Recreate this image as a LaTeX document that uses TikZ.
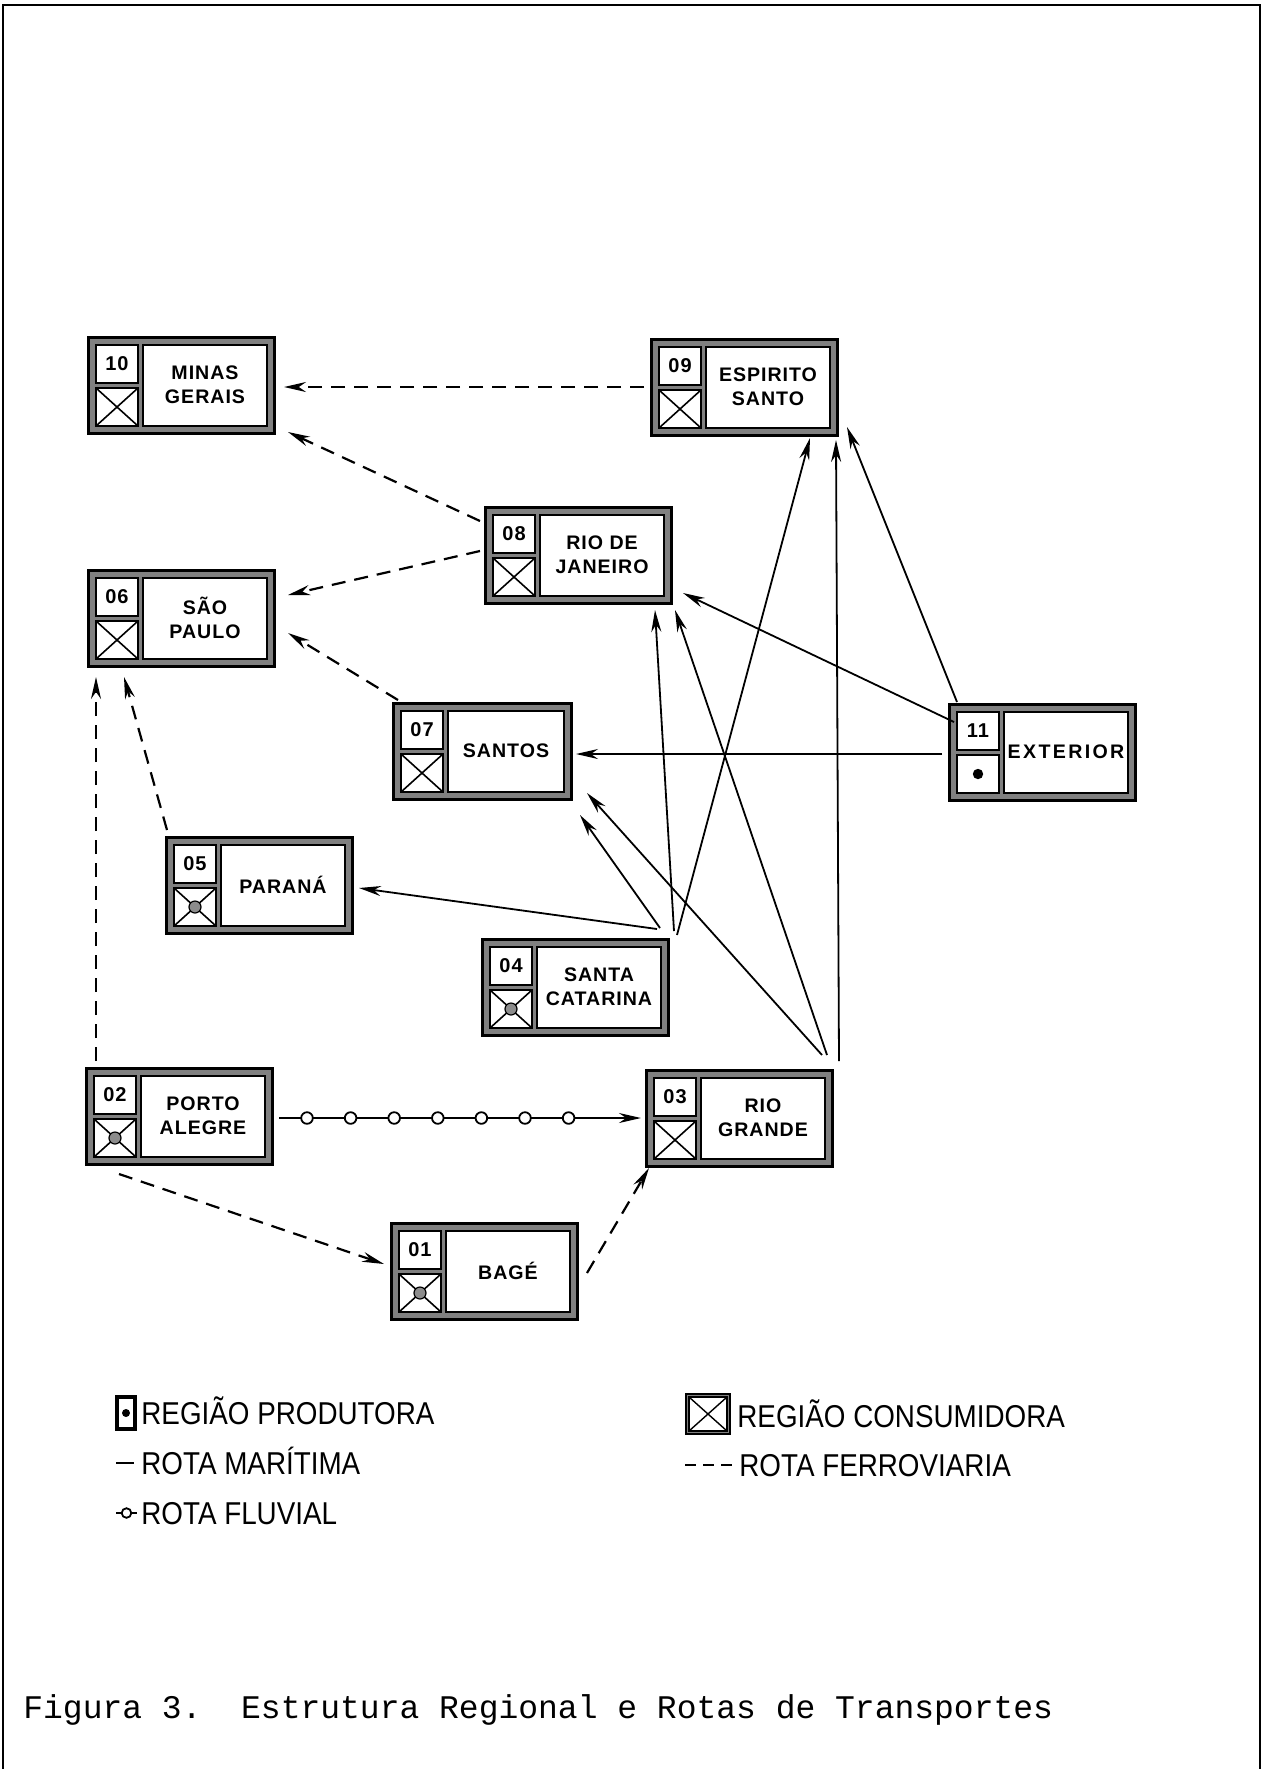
\documentclass[tikz,border=0pt]{standalone}
\usepackage{fontspec}
\setmainfont{Liberation Sans}
\newfontfamily\boxfont[LetterSpace=5]{Liberation Sans}
\newfontfamily\legfont[FakeStretch=0.88]{Liberation Sans}
\newfontfamily\capfont{Liberation Mono}
\usetikzlibrary{arrows.meta,calc,decorations.markings}

\tikzset{
  regbox/.style={draw, line width=1.5pt, fill=black!50, minimum width=93pt,
    minimum height=48pt, inner sep=0pt, outer sep=0pt},
  cell/.style={draw, line width=0.6pt, fill=white},
  numtxt/.style={font=\boxfont\bfseries\fontsize{10}{12}\selectfont, inner sep=0pt},
  nametxt/.style={font=\boxfont\bfseries\fontsize{9.8}{12}\selectfont, align=center, inner sep=0pt},
  tip/.style={-{Stealth[length=11pt,width=5pt]}},
  ferro/.style={tip, line width=1.1pt, dash pattern=on 7pt off 4.5pt},
  mar/.style={tip, line width=0.9pt},
  fluv/.style={tip, line width=1pt, postaction={decorate},
    decoration={markings, mark=between positions 14pt and 145pt step 21.8pt with
      {\draw[line width=0.9pt, fill=white] (0,0) circle (2.9pt);}}},
  legtxt/.style={font=\legfont\fontsize{15.8}{18}\selectfont, anchor=base west, inner sep=0pt},
  captxt/.style={font=\capfont\fontsize{16.5}{20}\selectfont, anchor=base west, inner sep=0pt},
}

% symbols drawn in the lower cell of a region box
\newcommand\symcross[1]{%
  \draw[line width=0.8pt] ($(#1.north west)+(8,51)$) -- ($(#1.south west)+(50,-7)$)
    ($(#1.north west)+(50,51)$) -- ($(#1.south west)+(8,-7)$);}
\newcommand\symcrossdot[1]{%
  \symcross{#1}%
  \draw[line width=0.6pt, fill=black!45] ($(#1.north west)+(29,70)$) circle (3pt);}
\newcommand\symdot[1]{%
  \fill ($(#1.north west)+(29,70)$) circle (2.6pt);}

% region box: name, x, y, width, number, label, symbol macro
\newcommand\regiao[7]{%
  \node[regbox, minimum width=#4] (#1) at (#2,#3) {};
  \path[cell] ($(#1.north west)+(8,8)$) rectangle ($(#1.north west)+(50,46)$);
  \path[cell] ($(#1.north west)+(8,51)$) rectangle ($(#1.south west)+(50,-7)$);
  \path[cell] ($(#1.north west)+(55,8)$) rectangle ($(#1.south east)+(-7,-7)$);
  \node[numtxt] (#1num) at ($(#1.north west)+(29,27)$) {#5};
  \node[nametxt] (#1lbl) at ($(#1.center)+(24,0)$) {#6};
  #7{#1}%
}

\begin{document}
\begin{tikzpicture}[x=0.5pt, y=-0.5pt]
\useasboundingbox (0,0) rectangle (1263,1769);

% frame
\draw[line width=1.2pt] (3,1769) -- (3,5) -- (1260,5) -- (1260,1769);

% regions
\regiao{n10}{181}{385}{93pt}{10}{MINAS\\GERAIS}{\symcross}
\regiao{n09}{744}{387}{93pt}{09}{ESPIRITO\\SANTO}{\symcross}
\regiao{n08}{578}{555}{93pt}{08}{RIO DE\\JANEIRO}{\symcross}
\regiao{n06}{181}{618}{93pt}{06}{SÃO\\PAULO}{\symcross}
\regiao{n07}{482}{751}{89pt}{07}{SANTOS}{\symcross}
\regiao{n11}{1042}{752}{93pt}{11}{\addfontfeature{LetterSpace=12}EXTERIOR}{\symdot}
\regiao{n05}{259}{885}{93pt}{05}{PARANÁ}{\symcrossdot}
\regiao{n04}{575}{987}{93pt}{04}{SANTA\\CATARINA}{\symcrossdot}
\regiao{n02}{179}{1116}{93pt}{02}{PORTO\\ALEGRE}{\symcrossdot}
\regiao{n03}{739}{1118}{93pt}{03}{RIO\\GRANDE}{\symcross}
\regiao{n01}{484}{1271}{93pt}{01}{BAGÉ}{\symcrossdot}

% railway routes
\draw[ferro] ($(n09.west)+(-7,0)$) -- ($(n10.east)+(10,2)$);
\draw[ferro] ($(n08.north west)+(-5,14)$) -- ($(n10.south east)+(14,-1)$);
\draw[ferro] ($(n08.west)+(-5,-4)$) -- ($(n06.east)+(14,-23)$);
\draw[ferro] ($(n07.north west)+(5,-3)$) -- ($(n06.east)+(14,15)$);
\draw[ferro] ($(n05.north west)+(1,-7)$) -- ($(n06.south west)+(36,11)$);
\draw[ferro] ($(n02.north west)+(10,-7)$) -- ($(n06.south west)+(8,11)$);
\draw[ferro] ($(n02.south west)+(33,10)$) -- ($(n01.west)+(-7,-7)$);
\draw[ferro] ($(n01.east)+(10,2)$) -- ($(n03.south west)+(3,2)$);

% river route
\draw[fluv] ($(n02.east)+(7,2)$) -- ($(n03.west)+(-5,0)$);

% sea routes
\draw[mar] ($(n11.north west)+(8,-2)$) -- ($(n09.south east)+(10,-8)$);
\draw[mar] ($(n11.north west)+(5,18)$) -- ($(n08.south east)+(12,-10)$);
\draw[mar] ($(n11.west)+(-7,2)$) -- ($(n07.east)+(5,3)$);
\draw[mar] ($(n04.north east)+(-11,-10)$) -- ($(n05.east)+(7,3)$);
\draw[mar] ($(n04.north east)+(-8,-11)$) -- ($(n07.south east)+(9,16)$);
\draw[mar] ($(n04.north east)+(6,-8)$) -- ($(n08.south east)+(-16,7)$);
\draw[mar] ($(n04.north east)+(9,-4)$) -- ($(n09.south east)+(-27,3)$);
\draw[mar] ($(n03.north east)+(-10,-15)$) -- ($(n07.south east)+(16,-6)$);
\draw[mar] ($(n03.north east)+(-5,-15)$) -- ($(n08.south east)+(4,7)$);
\draw[mar] ($(n03.north east)+(7,-9)$) -- ($(n09.south east)+(-1,5)$);

% legend
\node[draw, line width=1pt, fill=black!50, minimum width=10pt, minimum height=17pt,
  inner sep=0pt] (iprod) at (126,1413) {};
\path[cell] ($(iprod.north west)+(3,3)$) rectangle ($(iprod.south east)+(-3,-3)$);
\fill ($(iprod.center)$) circle (2pt);
\node[legtxt] (lprod) at (141,1424) {REGIÃO PRODUTORA};

\node[draw, line width=1pt, fill=black!50, minimum width=22pt, minimum height=20pt,
  inner sep=0pt] (icons) at (708,1414) {};
\path[cell] ($(icons.north west)+(4,4)$) rectangle ($(icons.south east)+(-4,-4)$);
\draw[line width=0.7pt] ($(icons.north west)+(4,4)$) -- ($(icons.south east)+(-4,-4)$)
  ($(icons.north east)+(-4,4)$) -- ($(icons.south west)+(4,-4)$);
\node[legtxt] (lcons) at (737,1427) {REGIÃO CONSUMIDORA};

\coordinate (mara) at (116,1463);
\coordinate (marb) at (134,1463);
\draw[line width=1.4pt] (mara) -- (marb);
\node[legtxt] (lmar) at (141,1474) {ROTA MARÍTIMA};

\coordinate (fera) at (685,1465);
\coordinate (ferb) at (734,1465);
\draw[line width=1.4pt, dash pattern=on 5.5pt off 3.5pt] (fera) -- (ferb);
\node[legtxt] (lfer) at (739,1476) {ROTA FERROVIARIA};

\coordinate (flua) at (116,1513);
\coordinate (flub) at (137,1513);
\draw[line width=1.3pt] (flua) -- (flub);
\draw[line width=0.9pt, fill=white] ($(flua)!0.5!(flub)$) circle (2.4pt);
\node[legtxt] (lflu) at (141,1524) {ROTA FLUVIAL};

% caption
\node[captxt] (cap) at (23,1718) {Figura 3.\ \ Estrutura Regional e Rotas de Transportes};
\end{tikzpicture}
\end{document}
